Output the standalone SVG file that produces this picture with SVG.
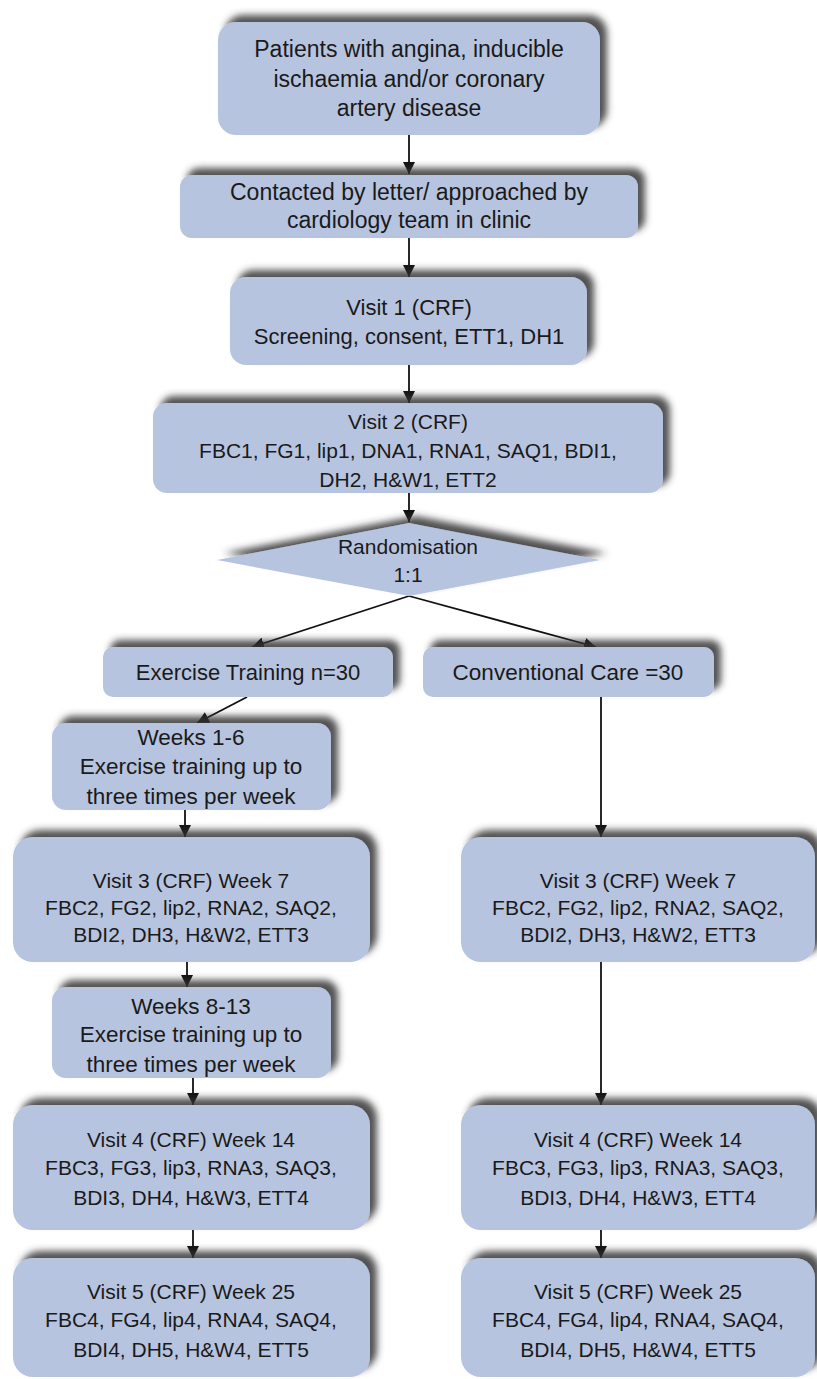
<svg xmlns="http://www.w3.org/2000/svg" width="817" height="1379" viewBox="0 0 817 1379">
<defs>
<filter id="sh" x="-10%" y="-30%" width="125%" height="160%">
<feDropShadow dx="7" dy="-7" stdDeviation="3.5" flood-color="#333333" flood-opacity="0.85"/>
</filter>
<marker id="ah" viewBox="0 0 10 10" refX="10" refY="5" markerWidth="12" markerHeight="12" markerUnits="userSpaceOnUse" orient="auto">
<path d="M0,0 L10,5 L0,10 z" fill="#111"/>
</marker>
<style>
.box{fill:#b7c4df;filter:url(#sh);}
.t{font-family:"Liberation Sans",Arial,sans-serif;font-size:21px;fill:#1a1a1a;text-anchor:middle;}
.big{font-size:23px;}
.m{font-size:22px;}
.w{font-size:22.5px;}
.c{stroke:#111;stroke-width:1.8;fill:none;marker-end:url(#ah);}
</style>
</defs>
<rect width="817" height="1379" fill="#ffffff"/>
<g id="connectors">
<line class="c" x1="409" y1="135" x2="409" y2="174"/>
<line class="c" x1="409" y1="238" x2="409" y2="277"/>
<line class="c" x1="409" y1="365" x2="409" y2="403"/>
<line class="c" x1="409" y1="493" x2="409" y2="522"/>
<line class="c" x1="409" y1="596" x2="252" y2="647"/>
<line class="c" x1="409" y1="596" x2="596" y2="647"/>
<line class="c" x1="247" y1="697" x2="197" y2="723"/>
<line class="c" x1="185" y1="810" x2="185" y2="837"/>
<line class="c" x1="601" y1="697" x2="601" y2="837"/>
<line class="c" x1="187" y1="962" x2="187" y2="987"/>
<line class="c" x1="193" y1="1078" x2="193" y2="1105"/>
<line class="c" x1="601" y1="962" x2="601" y2="1105"/>
<line class="c" x1="193" y1="1230" x2="193" y2="1258"/>
<line class="c" x1="601" y1="1230" x2="601" y2="1258"/>
</g>
<g id="n1">
<rect class="box" x="218" y="22" width="382" height="113" rx="18"/>
<text class="t big" x="409" y="57">Patients with angina, inducible</text>
<text class="t big" x="409" y="87">ischaemia and/or coronary</text>
<text class="t big" x="409" y="116">artery disease</text>
</g>
<g id="n2">
<rect class="box" x="180" y="175" width="458" height="63" rx="12"/>
<text class="t big" x="409" y="200">Contacted by letter/ approached by</text>
<text class="t big" x="409" y="228">cardiology team in clinic</text>
</g>
<g id="n3">
<rect class="box" x="230" y="277" width="357" height="88" rx="16"/>
<text class="t m" x="409" y="315">Visit 1 (CRF)</text>
<text class="t m" x="409" y="344">Screening, consent, ETT1, DH1</text>
</g>
<g id="n4">
<rect class="box" x="153" y="403" width="510" height="90" rx="14"/>
<text class="t" x="408" y="429">Visit 2 (CRF)</text>
<text class="t" x="408" y="458">FBC1, FG1, lip1, DNA1, RNA1, SAQ1, BDI1,</text>
<text class="t" x="408" y="487">DH2, H&amp;W1, ETT2</text>
</g>
<g id="n5">
<polygon class="box" points="409,523 600,560 409,596 217,560"/>
<text class="t" x="408" y="554">Randomisation</text>
<text class="t" x="408" y="582">1:1</text>
</g>
<g id="n6">
<rect class="box" x="103" y="647" width="290" height="50" rx="10"/>
<text class="t m" x="248" y="680">Exercise Training n=30</text>
</g>
<g id="n7">
<rect class="box" x="423" y="647" width="291" height="50" rx="10"/>
<text class="t w" x="568" y="680">Conventional Care =30</text>
</g>
<g id="n8">
<rect class="box" x="52" y="723" width="279" height="87" rx="14"/>
<text class="t w" x="191" y="745">Weeks 1-6</text>
<text class="t w" x="191" y="774">Exercise training up to</text>
<text class="t w" x="191" y="804">three times per week</text>
</g>
<g id="n9">
<rect class="box" x="13" y="837" width="357" height="125" rx="20"/>
<text class="t" x="191" y="888">Visit 3 (CRF) Week 7</text>
<text class="t" x="191" y="915">FBC2, FG2, lip2, RNA2, SAQ2,</text>
<text class="t" x="191" y="942">BDI2, DH3, H&amp;W2, ETT3</text>
</g>
<g id="n10">
<rect class="box" x="461" y="837" width="354" height="125" rx="20"/>
<text class="t" x="638" y="888">Visit 3 (CRF) Week 7</text>
<text class="t" x="638" y="915">FBC2, FG2, lip2, RNA2, SAQ2,</text>
<text class="t" x="638" y="942">BDI2, DH3, H&amp;W2, ETT3</text>
</g>
<g id="n11">
<rect class="box" x="52" y="987" width="279" height="91" rx="14"/>
<text class="t w" x="191" y="1014">Weeks 8-13</text>
<text class="t w" x="191" y="1042">Exercise training up to</text>
<text class="t w" x="191" y="1072">three times per week</text>
</g>
<g id="n12">
<rect class="box" x="13" y="1105" width="357" height="125" rx="20"/>
<text class="t" x="191" y="1147">Visit 4 (CRF) Week 14</text>
<text class="t" x="191" y="1175">FBC3, FG3, lip3, RNA3, SAQ3,</text>
<text class="t" x="191" y="1205">BDI3, DH4, H&amp;W3, ETT4</text>
</g>
<g id="n13">
<rect class="box" x="461" y="1105" width="354" height="125" rx="20"/>
<text class="t" x="638" y="1147">Visit 4 (CRF) Week 14</text>
<text class="t" x="638" y="1175">FBC3, FG3, lip3, RNA3, SAQ3,</text>
<text class="t" x="638" y="1205">BDI3, DH4, H&amp;W3, ETT4</text>
</g>
<g id="n14">
<rect class="box" x="13" y="1258" width="357" height="119" rx="20"/>
<text class="t" x="191" y="1299">Visit 5 (CRF) Week 25</text>
<text class="t" x="191" y="1327">FBC4, FG4, lip4, RNA4, SAQ4,</text>
<text class="t" x="191" y="1357">BDI4, DH5, H&amp;W4, ETT5</text>
</g>
<g id="n15">
<rect class="box" x="461" y="1258" width="354" height="119" rx="20"/>
<text class="t" x="638" y="1299">Visit 5 (CRF) Week 25</text>
<text class="t" x="638" y="1327">FBC4, FG4, lip4, RNA4, SAQ4,</text>
<text class="t" x="638" y="1357">BDI4, DH5, H&amp;W4, ETT5</text>
</g>
</svg>
